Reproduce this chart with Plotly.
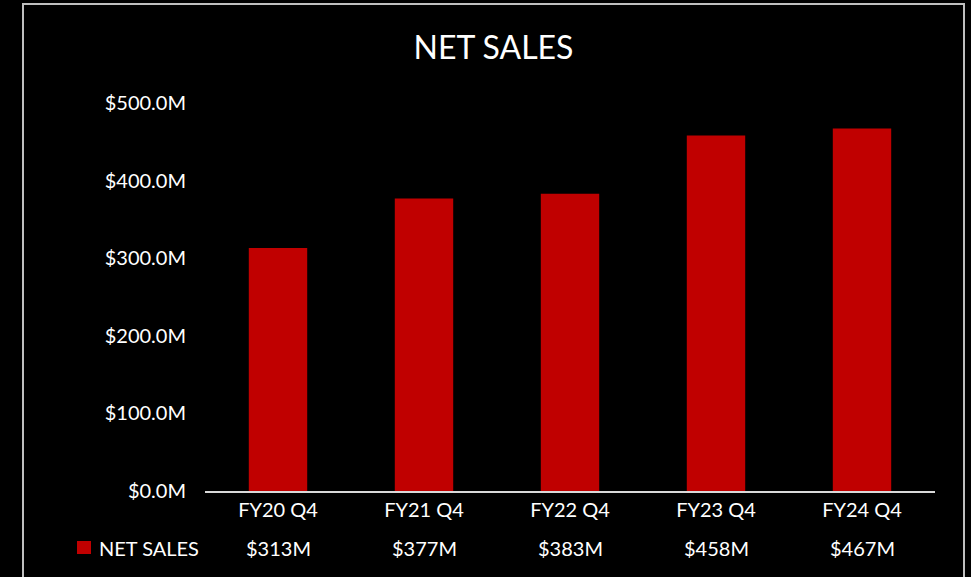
import plotly.graph_objects as go

categories = ["FY20 Q4", "FY21 Q4", "FY22 Q4", "FY23 Q4", "FY24 Q4"]
net_sales = [313, 377, 383, 458, 467]  # $M
series_name = "NET SALES"
y_ticks = [0, 100, 200, 300, 400, 500]
y_tick_labels = [f"${v:.1f}M" for v in y_ticks]

BAR = "#C00000"
TXT = "#FFFFFF"
FONT = "Lato"

W, H = 971, 577
L, R, T, B = 205, 36, 103, 86
pw, ph = W - L - R, H - T - B

def px(x):
    return (x - L) / pw

def py(y):
    return (H - B - y) / ph

fig = go.Figure()
fig.add_trace(go.Bar(x=categories, y=net_sales, name=series_name,
                     marker=dict(color=BAR, line=dict(width=0)), showlegend=False))

# data table row
for c, v in zip(categories, net_sales):
    fig.add_annotation(x=c, xref="x", y=py(547.5), yref="paper", text=f"${v:.0f}M",
                       showarrow=False, xanchor="center", yanchor="middle",
                       font=dict(family=FONT, size=20, color=TXT))
fig.add_annotation(x=px(97), xref="paper", y=py(547.5), yref="paper", text=series_name,
                   showarrow=False, xanchor="left", yanchor="middle",
                   font=dict(family=FONT, size=20, color=TXT))
fig.add_shape(type="rect", xref="paper", yref="paper",
              x0=px(77), x1=px(91), y0=py(554), y1=py(541),
              fillcolor=BAR, line=dict(width=0))
# chart border
fig.add_shape(type="rect", xref="paper", yref="paper",
              x0=px(23), x1=px(964), y0=py(590), y1=py(4),
              line=dict(color="#BFBFBF", width=2), fillcolor="rgba(0,0,0,0)", layer="below")

fig.update_layout(
    width=W, height=H,
    margin=dict(l=L, r=R, t=T, b=B, autoexpand=False),
    paper_bgcolor="#000000", plot_bgcolor="#000000",
    bargap=0.6,
    title=dict(text="NET SALES", x=493.5 / W, xanchor="center", xref="container",
               y=1 - 48 / H, yanchor="middle", yref="container",
               font=dict(family=FONT, size=32, color=TXT)),
    font=dict(family=FONT, color=TXT),
    xaxis=dict(showline=True, linecolor="#D9D9D9", linewidth=2, showgrid=False,
               ticks="", tickfont=dict(family=FONT, size=20, color=TXT), zeroline=False),
    yaxis=dict(range=[0, 500], tickmode="array", tickvals=y_ticks, ticktext=y_tick_labels,
               showgrid=False, zeroline=False, showline=False,
               ticks="", ticklabelstandoff=18,
               tickfont=dict(family=FONT, size=20, color=TXT)),
)

fig.write_html("out.html", config={"displayModeBar": False},
               post_script="document.body.style.margin='0';document.body.style.background='#000';")
